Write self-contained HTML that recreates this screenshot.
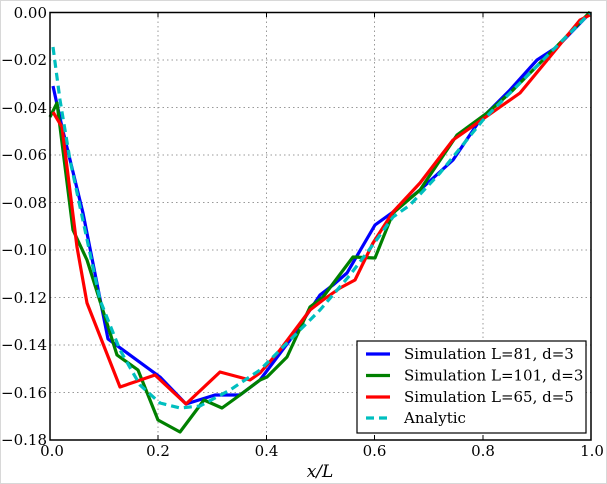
<!DOCTYPE html>
<html><head><style>
html,body{margin:0;padding:0;background:#fff;}
svg{display:block;}
text{font-family:"DejaVu Serif","Liberation Serif",serif;font-size:15px;fill:#000;}
</style></head><body>
<svg width="607" height="484" viewBox="0 0 607 484">
<rect x="0" y="0" width="607" height="484" fill="#fff"/>
<rect x="0.5" y="0.5" width="606" height="483" fill="none" stroke="#d8d8d8"/>
<g stroke="#999" stroke-width="1" stroke-dasharray="1.5,3">
<line x1="158" y1="12.5" x2="158" y2="440"/>
<line x1="266.5" y1="12.5" x2="266.5" y2="440"/>
<line x1="374.5" y1="12.5" x2="374.5" y2="440"/>
<line x1="483" y1="12.5" x2="483" y2="440"/>
<line x1="50" y1="60" x2="591" y2="60"/>
<line x1="50" y1="107.5" x2="591" y2="107.5"/>
<line x1="50" y1="155" x2="591" y2="155"/>
<line x1="50" y1="202.5" x2="591" y2="202.5"/>
<line x1="50" y1="250" x2="591" y2="250"/>
<line x1="50" y1="297.5" x2="591" y2="297.5"/>
<line x1="50" y1="345" x2="591" y2="345"/>
<line x1="50" y1="392.5" x2="591" y2="392.5"/>
</g>
<g fill="none" stroke-width="3.2" stroke-linejoin="round">
<polyline stroke="#00f" points="53,86 62,127 83,213 108,339 160,377 186,404 215,395 240,395 260,380 290,340 320,295 333,285 347,273 375,225 393,212 420,190 453,160 480,120 510,90 537,60 557,47 590,13"/>
<polyline stroke="#008000" points="50,117 57,103 73,230 87,260 117,355 138,370 150,400 158,420 180,432 204,400 222,408 240,395 260,380 267,377 287,357 310,307 323,297 353,257 375,258 393,213 420,190 457,135 487,113 510,93 530,73 560,43 590,12"/>
<polyline stroke="#f00" points="53,112 62,127 77,247 87,303 120,387 155,375 186,404 220,372 250,380 260,373 280,350 310,310 323,300 340,288 355,280 373,243 393,212 420,183 453,140 500,107 520,93 553,53 580,20 590,15"/>
<polyline stroke="#00bfbf" stroke-dasharray="8,5" points="53,47 60,100 70,160 85,230 100,300 120,350 140,385 160,403 180,408 200,406 230,390 260,370 290,340 320,310 350,275 375,242 393,217 410,205 440,173 483,120 520,83 563,40 590,13"/>
</g>
<rect x="50" y="12.5" width="541" height="427.5" fill="none" stroke="#000" stroke-width="1.5"/>
<g stroke="#000" stroke-width="1">
<line x1="158" y1="440" x2="158" y2="435"/><line x1="266.5" y1="440" x2="266.5" y2="435"/><line x1="374.5" y1="440" x2="374.5" y2="435"/><line x1="483" y1="440" x2="483" y2="435"/>
<line x1="158" y1="12.5" x2="158" y2="17"/><line x1="266.5" y1="12.5" x2="266.5" y2="17"/><line x1="374.5" y1="12.5" x2="374.5" y2="17"/><line x1="483" y1="12.5" x2="483" y2="17"/>
</g>
<g text-anchor="end">
<text x="47" y="18">0.00</text>
<text x="47" y="65">−0.02</text>
<text x="47" y="113">−0.04</text>
<text x="47" y="160">−0.06</text>
<text x="47" y="208">−0.08</text>
<text x="47" y="255">−0.10</text>
<text x="47" y="303">−0.12</text>
<text x="47" y="350">−0.14</text>
<text x="47" y="398">−0.16</text>
<text x="47" y="445">−0.18</text>
</g>
<g text-anchor="middle">
<text x="52" y="456">0.0</text>
<text x="158" y="456">0.2</text>
<text x="266.5" y="456">0.4</text>
<text x="374.5" y="456">0.6</text>
<text x="483" y="456">0.8</text>
<text x="592" y="456">1.0</text>
<text x="320" y="477" style="font-style:italic;font-size:17px">x/L</text>
</g>
<rect x="357" y="341" width="229" height="92" fill="#fff" stroke="#000" stroke-width="1.2"/>
<g stroke-width="3.2">
<line x1="366" y1="354" x2="390" y2="354" stroke="#00f"/>
<line x1="366" y1="375.5" x2="390" y2="375.5" stroke="#008000"/>
<line x1="366" y1="397" x2="390" y2="397" stroke="#f00"/>
<line x1="366" y1="418" x2="390" y2="418" stroke="#00bfbf" stroke-dasharray="8,5"/>
</g>
<text x="404" y="359">Simulation L=81, d=3</text>
<text x="404" y="380.5">Simulation L=101, d=3</text>
<text x="404" y="402">Simulation L=65, d=5</text>
<text x="404" y="423">Analytic</text>
</svg>
</body></html>
